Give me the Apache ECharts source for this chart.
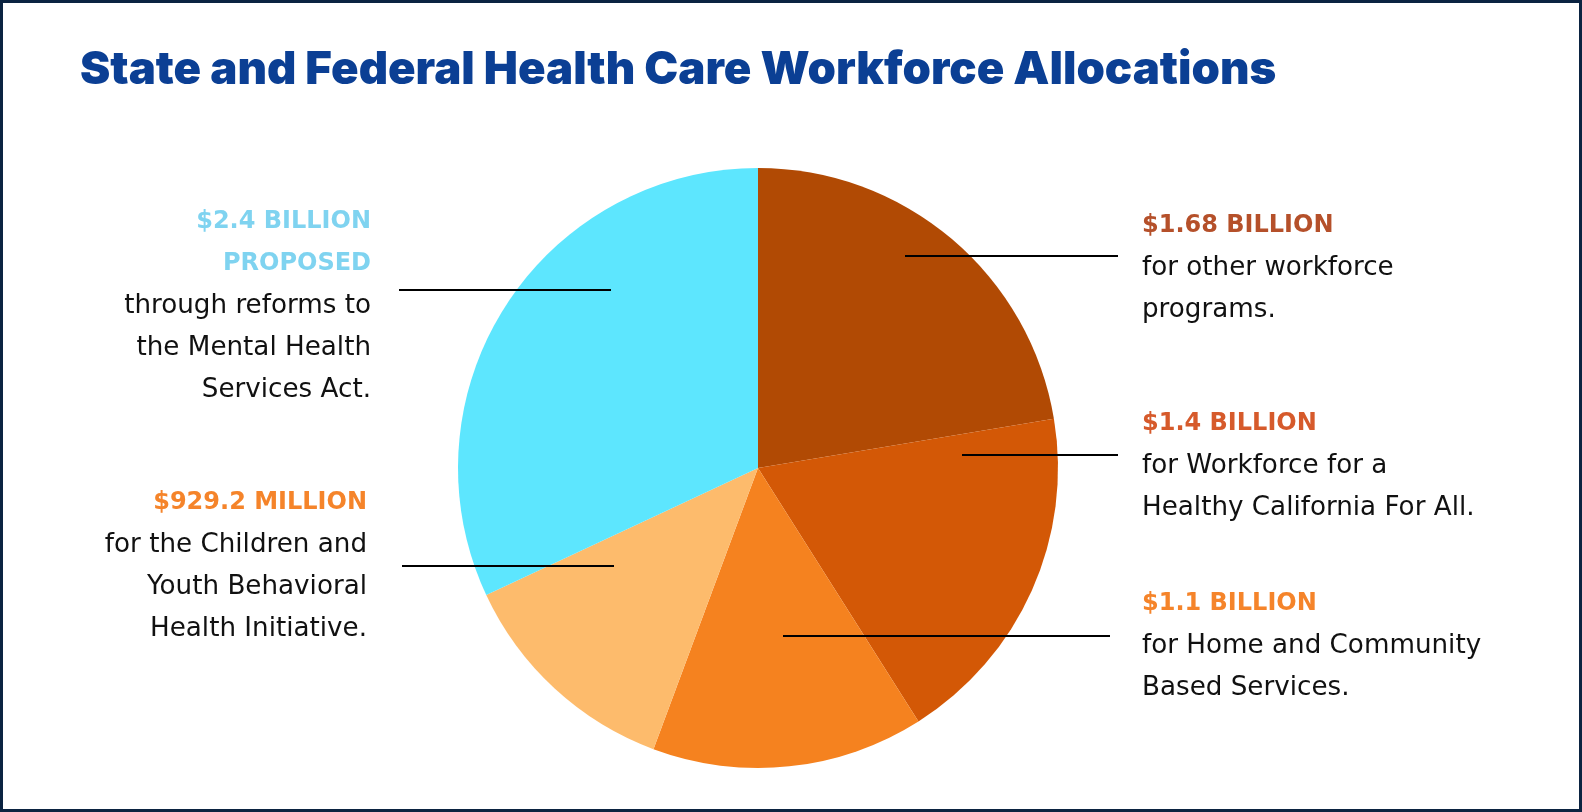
<!DOCTYPE html>
<html>
<head>
<meta charset="utf-8">
<style>
  html, body { margin: 0; padding: 0; background: #fff; }
  #chart { width: 1582px; height: 812px; }
</style>
<script src="https://cdn.jsdelivr.net/npm/echarts@6/dist/echarts.min.js"></script>
</head>
<body>
<div id="chart"></div>
<script>
// slices, clockwise from 12 o'clock
const categories = [
  'Other workforce programs',
  'Workforce for a Healthy California For All',
  'Home and Community Based Services',
  'Children and Youth Behavioral Health Initiative',
  'Mental Health Services Act reforms'
]
const valuesBillion = [1.68, 1.4, 1.1, 0.9292, 2.4]
const amountLines = [
  ['$1.68 BILLION'],
  ['$1.4 BILLION'],
  ['$1.1 BILLION'],
  ['$929.2 MILLION'],
  ['$2.4 BILLION', 'PROPOSED']
]
const descLines = [
  ['for other workforce', 'programs.'],
  ['for Workforce for a', 'Healthy California For All.'],
  ['for Home and Community', 'Based Services.'],
  ['for the Children and', 'Youth Behavioral', 'Health Initiative.'],
  ['through reforms to', 'the Mental Health', 'Services Act.']
]

const sliceColors = ['#b14a04', '#d35806', '#f5821f', '#fdbb6c', '#5de6fe']
const headColors = ['#b5502a', '#d65a2b', '#f5842a', '#f5842a', '#7fd3f0']

// label placement: text anchor + leader line (start x, end x, y)
const labelPos = [
  { x: 1142, y: 205, align: 'left', line: [905, 1118, 256] },
  { x: 1142, y: 403, align: 'left', line: [962, 1118, 455] },
  { x: 1142, y: 583, align: 'left', line: [783, 1110, 636] },
  { x: 367, y: 482, align: 'right', line: [402, 614, 566] },
  { x: 371, y: 201, align: 'right', line: [399, 611, 290] }
]

const rich = {
  b: { fontFamily: 'DejaVu Sans', fontSize: 26.2, lineHeight: 42, color: '#111' }
}
headColors.forEach((c, i) => {
  rich['h' + i] = { fontFamily: 'DejaVu Sans', fontWeight: 'bold', fontSize: 24, lineHeight: 42, color: c }
})

const chart = echarts.init(document.getElementById('chart'))
chart.setOption({
  backgroundColor: '#fff',
  animation: false,
  title: {
    text: 'State and Federal Health Care Workforce Allocations',
    left: 75,
    top: 43,
    textStyle: {
      fontFamily: 'Inter',
      fontWeight: 900,
      fontSize: 45.5,
      lineHeight: 44,
      color: '#0b3f94'
    }
  },
  graphic: [{
    type: 'rect',
    shape: { x: 1.5, y: 1.5, width: 1579, height: 809 },
    style: { fill: null, stroke: '#0b2341', lineWidth: 3 },
    z: 100
  }].concat(labelPos.map(pos => ({
    // leader lines drawn over the slices
    type: 'line',
    shape: { x1: pos.line[0], y1: pos.line[2], x2: pos.line[1], y2: pos.line[2] },
    style: { stroke: '#000', lineWidth: 2 },
    z: 50
  }))),
  series: [{
    type: 'pie',
    center: [758, 468],
    radius: 300,
    startAngle: 90,
    clockwise: true,
    data: valuesBillion.map((v, i) => ({
      name: categories[i],
      value: v,
      itemStyle: { color: sliceColors[i] }
    })),
    label: {
      show: true,
      position: 'outside',
      rich: rich,
      formatter: p => {
        const i = p.dataIndex
        const head = amountLines[i].map(t => '{h' + i + '|' + t + '}')
        const body = descLines[i].map(t => '{b|' + t + '}')
        return head.concat(body).join('\n')
      }
    },
    labelLine: { show: false },
    labelLayout: p => {
      const pos = labelPos[p.dataIndex]
      return {
        x: pos.x,
        y: pos.y,
        align: pos.align,
        verticalAlign: 'top'
      }
    }
  }]
})
</script>
</body>
</html>
